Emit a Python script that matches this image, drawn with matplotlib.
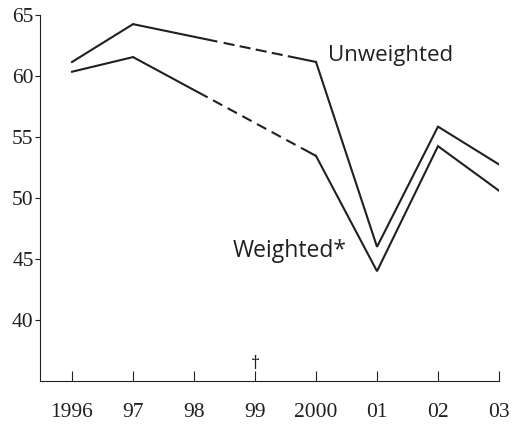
import matplotlib
matplotlib.use("Agg")
import matplotlib.pyplot as plt

years = [1996, 1997, 2000, 2001, 2002, 2003]
unweighted = [61.15, 64.25, 61.15, 46.0, 55.85, 52.75]
weighted = [60.35, 61.55, 53.45, 44.0, 54.25, 50.6]
tick_years = [1996, 1997, 1998, 1999, 2000, 2001, 2002, 2003]
tick_labels = ['1996', '97', '98', '99', '2000', '01', '02', '03']
y_ticks = [40, 45, 50, 55, 60, 65]

ink = '#231f20'
plt.rcParams['lines.scale_dashes'] = False

fig = plt.figure(figsize=(5.13, 4.26), dpi=100)
ax = fig.add_axes([0.078, 0.1056, 0.8947, 0.8592])

# solid parts, then the 1997-2000 stretch solid at first and dashed after
dash_u = (0, (62, 4.6, 8, 3.8, 8, 3.8, 8, 3.8, 8, 3.8, 200))
dash_w = (0, (61, 4.4, 7.6, 4.4, 7.6, 4.4, 7.6, 4.4, 7.6, 4.4, 7.6, 4.4, 7.6, 4.4, 200))
for series, dash in [(unweighted, dash_u), (weighted, dash_w)]:
    ax.plot(years[:2], series[:2], color=ink, lw=1.5, solid_joinstyle='miter')
    ax.plot(years[2:], series[2:], color=ink, lw=1.5, solid_joinstyle='miter')
    ax.plot(years[1:3], series[1:3], color=ink, lw=1.5, linestyle=dash,
            dash_capstyle='butt')

ax.text(2000.2, 61.25, 'Unweighted', family='Open Sans', fontsize=16,
        color=ink, ha='left', va='baseline')
ax.text(1998.63, 45.15, 'Weighted*', family='Open Sans', fontsize=16.5,
        color=ink, ha='left', va='baseline')
ax.text(1999, 35.95, '\u2020', family='Open Sans', fontsize=13,
        color=ink, ha='center', va='baseline')

ax.set_xlim(1995.475, 2003.0)
ax.set_ylim(35, 65)
ax.spines['top'].set_visible(False)
ax.spines['right'].set_visible(False)
for s in ['left', 'bottom']:
    ax.spines[s].set_linewidth(0.8)
    ax.spines[s].set_color(ink)

ax.set_xticks(tick_years)
ax.set_xticklabels(tick_labels)
ax.set_yticks(y_ticks)
ax.tick_params(axis='x', direction='in', length=7, width=0.8, color=ink,
               pad=16, labelsize=15.5, labelcolor=ink)
ax.tick_params(axis='y', direction='out', length=3.6, width=0.8, color=ink,
               pad=1, labelsize=15.5, labelcolor=ink)
for lab in ax.get_xticklabels() + ax.get_yticklabels():
    lab.set_family('Liberation Serif')

fig.savefig('out.png', dpi=100)
